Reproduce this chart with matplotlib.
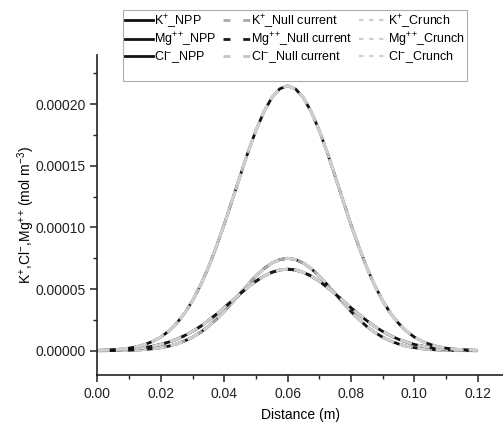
import matplotlib
matplotlib.use('Agg')
import matplotlib.pyplot as plt
from matplotlib.lines import Line2D
from matplotlib.ticker import MultipleLocator, FormatStrFormatter
import numpy as np

plt.rcParams['font.family'] = ['Liberation Sans', 'DejaVu Sans']
plt.rcParams['mathtext.fontset'] = 'custom'
plt.rcParams['mathtext.rm'] = 'Liberation Sans'
plt.rcParams['mathtext.it'] = 'Liberation Sans:italic'

# distance (m), 0 -> 0.12 in steps of 0.0025
distance = np.arange(49) * 0.0025

# half-curves read from 0.06 outwards (units 1e-6 mol m-3), mirrored about the peak
k_half = [75.0, 74.0, 71.1, 66.5, 60.6, 53.7, 46.4, 39.0, 31.9, 25.4, 19.7, 14.9,
          11.0, 7.9, 5.5, 3.7, 2.5, 1.6, 1.0, 0.6, 0.4, 0.2, 0.1, 0.05, 0.0]
mg_half = [66.2, 65.5, 63.6, 60.5, 56.4, 51.6, 46.2, 40.6, 34.9, 29.5, 24.4, 19.7,
           15.7, 12.2, 9.3, 7.0, 5.1, 3.7, 2.6, 1.8, 1.2, 0.8, 0.5, 0.3, 0.2]
cl_half = [215.0, 212.5, 205.3, 193.7, 178.7, 161.0, 141.7, 121.9, 102.5, 84.2, 67.6, 53.0,
           40.6, 30.4, 22.3, 15.9, 11.1, 7.6, 5.1, 3.3, 2.1, 1.3, 0.8, 0.5, 0.3]


def full_curve(half):
    half = np.array(half) * 1e-6
    return np.concatenate([half[::-1], half[1:]])


ions = ['K$^{+}$', 'Mg$^{+}$$^{+}$', 'Cl$^{-}$']
curves = [full_curve(k_half), full_curve(mg_half), full_curve(cl_half)]
null_colors = ['#a8a8a8', '#1a1a1a', '#c4c4c4']
crunch_color = '#cfcfcf'

fig = plt.figure(figsize=(5.03, 4.28), dpi=100)
ax = fig.add_axes([0.1938, 0.123, 0.8062, 0.7485])

for y, nc in zip(curves, null_colors):
    ax.plot(distance, y, color='#111111', lw=2.0, solid_capstyle='butt')
    ax.plot(distance, y, color=nc, lw=2.0, dashes=(4, 3))
    ax.plot(distance, y, color=crunch_color, lw=2.2, dashes=(4, 2))

ax.set_xlim(0, 0.128)
ax.set_ylim(-0.00002, 0.00024)
ax.xaxis.set_major_locator(MultipleLocator(0.02))
ax.xaxis.set_minor_locator(MultipleLocator(0.01))
ax.yaxis.set_major_locator(MultipleLocator(0.00005))
ax.yaxis.set_minor_locator(MultipleLocator(0.000025))
ax.xaxis.set_major_formatter(FormatStrFormatter('%.2f'))
ax.yaxis.set_major_formatter(FormatStrFormatter('%.5f'))

for s in ['top', 'right']:
    ax.spines[s].set_visible(False)
for s in ['left', 'bottom']:
    ax.spines[s].set_linewidth(1.2)
    ax.spines[s].set_color('#222222')
ax.tick_params(which='major', length=5, width=1.1, labelsize=10, colors='#222222')
ax.tick_params(which='minor', length=3, width=1.0, colors='#222222')

ax.set_xlabel('Distance (m)', fontsize=10, labelpad=5)
ax.set_ylabel('K$^{+}$,Cl$^{-}$,Mg$^{+}$$^{+}$ (mol m$^{-3}$)', fontsize=10, labelpad=-1)

# legend proxies: NPP column, Null current column, Crunch column, each with a blank row
handles = []
labels = []
for ion in ions:
    handles.append(Line2D([], [], color='#111111', lw=2.0))
    labels.append(ion + '_NPP')
handles.append(Line2D([], [], color='none'))
labels.append(' ')
for ion, nc in zip(ions, null_colors):
    handles.append(Line2D([], [], color=nc, lw=2.0, dashes=(2.5, 4.6)))
    labels.append(ion + '_Null current')
handles.append(Line2D([], [], color='none'))
labels.append(' ')
for ion in ions:
    handles.append(Line2D([], [], color=crunch_color, lw=1.6, dashes=(2.0, 2.5)))
    labels.append(ion + '_Crunch')
handles.append(Line2D([], [], color='none'))
labels.append(' ')

leg = fig.legend(handles, labels, ncol=3, loc='upper left', bbox_to_anchor=(0.244, 0.977),
                 fontsize=9, frameon=True, fancybox=False, handlelength=2.2,
                 handletextpad=0.1, columnspacing=0.5, labelspacing=0.05,
                 borderpad=0.2, borderaxespad=0)
leg.get_frame().set_edgecolor('#999999')
leg.get_frame().set_linewidth(0.8)

fig.savefig('out.png', dpi=100)
